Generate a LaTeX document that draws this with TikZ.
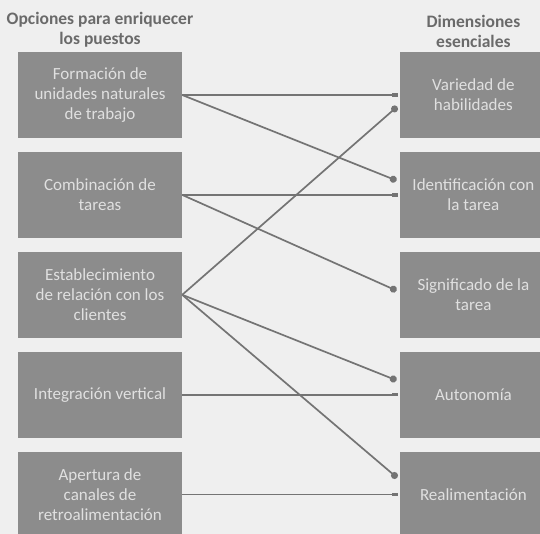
\documentclass[tikz,border=0pt]{standalone}
\usepackage{fontspec}
\setmainfont{Carlito}
\usepackage{xcolor}
\usetikzlibrary{arrows.meta, positioning}
\definecolor{bggray}{HTML}{EFEFEF}
\definecolor{boxgray}{HTML}{8C8C8C}
\definecolor{txtgray}{HTML}{6A6A6A}
\definecolor{lngray}{HTML}{747474}
\tikzset{
  blk/.style={
    rectangle, fill=boxgray, text=white!88!black,
    minimum width=164pt, minimum height=86pt,
    align=center, inner sep=2pt,
    font=\fontsize{17}{20}\selectfont
  },
  rblk/.style={blk, minimum width=146pt},
  hdr/.style={text=txtgray, align=center, inner sep=0pt,
    font=\bfseries\fontsize{17.5}{20}\selectfont},
  lnk/.style={line width=1.7pt, draw=lngray},
  hlnk/.style={lnk, -{Rectangle[length=6pt,width=3.5pt]}, shorten >=2pt},
  dlnk/.style={lnk, -{Circle[length=7pt]}, shorten >=4pt}
}
\begin{document}
\begin{tikzpicture}[x=1pt, y=-1pt, node distance=13.5pt]
  \fill[bggray] (0,0) rectangle (540,534);
  \clip (0,0) rectangle (540,534);

  \node[blk] (unid) at (100,95) {Formación de\\unidades naturales\\de trabajo};
  \node[blk, below=of unid]  (comb)  {Combinación de\\tareas};
  \node[blk, below=of comb]  (clien) {Establecimiento\\de relación con los\\clientes};
  \node[blk, below=of clien] (integ) {Integración vertical};
  \node[blk, below=of integ] (canal) {Apertura de\\canales de\\retroalimentación};

  \node[rblk, right=218pt of unid] (var)    {Variedad de\\habilidades};
  \node[rblk, below=of var]        (ident)  {Identificación con\\la tarea};
  \node[rblk, below=of ident]      (signif) {Significado de la\\tarea};
  \node[rblk, below=of signif]     (auton)  {Autonomía};
  \node[rblk, below=of auton]      (realim) {Realimentación};

  \node[hdr, above=4pt of unid] (hopc) {Opciones para enriquecer\\los puestos};
  \node[hdr, above=4pt of var]  (hdim) {Dimensiones\\esenciales};

  \draw[hlnk] (unid) -- (var);
  \draw[dlnk] (unid.east) -- (ident.170);
  \draw[hlnk] (comb) -- (ident);
  \draw[dlnk] (comb.east) -- (signif.178);
  \draw[dlnk] (clien.east) -- (var.187);
  \draw[dlnk] (clien.east) -- (auton.170);
  \draw[dlnk] (clien.east) -- (realim.169);
  \draw[hlnk] (integ) -- (auton);
  \draw[hlnk] (canal) -- (realim);
\end{tikzpicture}
\end{document}
